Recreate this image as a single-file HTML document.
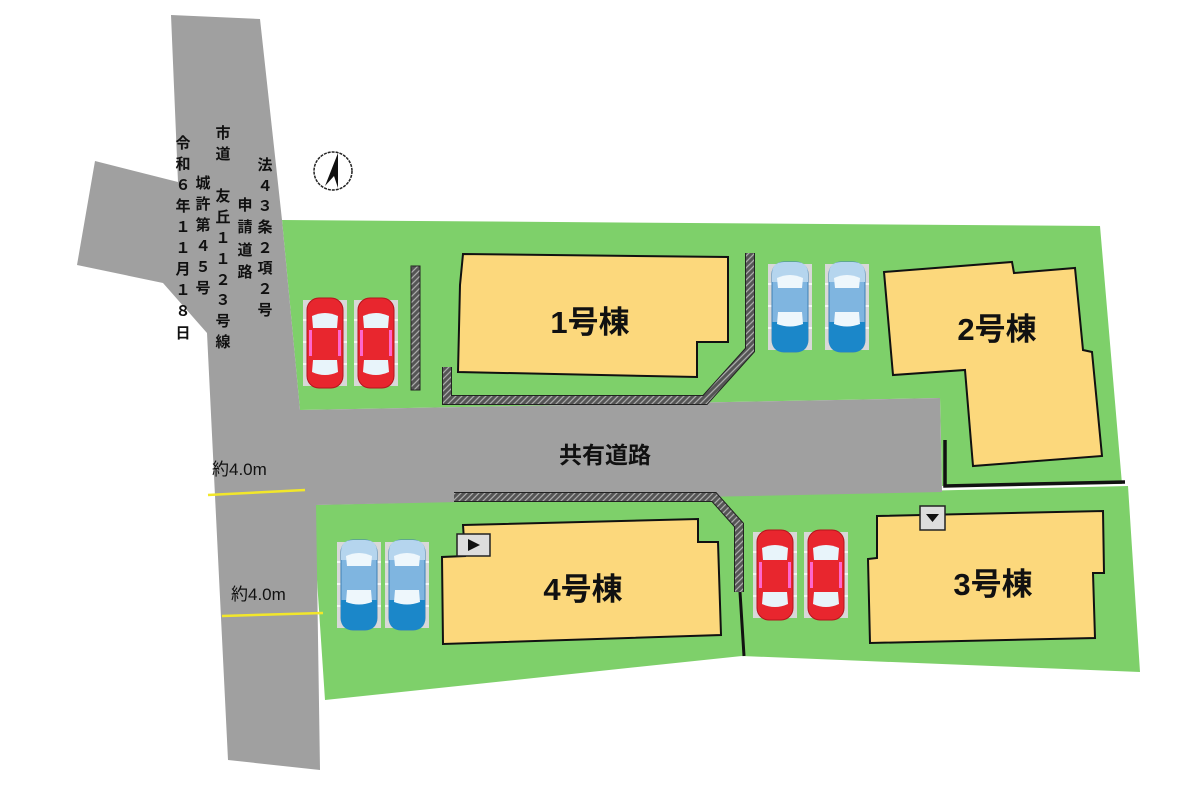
<!DOCTYPE html>
<html><head><meta charset="utf-8"><style>
html,body{margin:0;padding:0;background:#fff}
svg{display:block}
text{font-family:"Liberation Sans","Noto Sans CJK JP",sans-serif;fill:#111}
</style></head><body>
<svg width="1196" height="800" viewBox="0 0 1196 800" xmlns="http://www.w3.org/2000/svg">
<defs>
<pattern id="hatch" width="6" height="6" patternUnits="userSpaceOnUse">
<rect width="6" height="6" fill="#555"/>
<path d="M0 6L6 0M-1 1L1 -1M5 7L7 5" stroke="#aaa" stroke-width="1.3"/>
</pattern>
<g id="stripes">
<rect x="0" y="2" width="44" height="86" fill="#d8d8d8"/>
<path d="M0 22H44M0 44H44M0 66H44" stroke="#f4f4f4" stroke-width="2"/>
</g>
<g id="redcar">
<use href="#stripes"/>
<rect x="4" y="0" width="36" height="90" rx="12" fill="#e8262e" stroke="#b3151c" stroke-width="1"/>
<path d="M9 18Q22 12 35 18L34 30H10Z" fill="#e8f4fa"/>
<path d="M10 62H34L35 74Q22 80 9 74Z" fill="#e8f4fa"/>
<rect x="6" y="32" width="3" height="26" fill="#f6c"/>
<rect x="35" y="32" width="3" height="26" fill="#f6c"/>
</g>
<g id="bluecar">
<use href="#stripes"/>
<rect x="4" y="0" width="36" height="90" rx="12" fill="#7fb5e0" stroke="#3e7fb3" stroke-width="1"/>
<path d="M4 60H40V78Q40 90 28 90H16Q4 90 4 78Z" fill="#1b87c9"/>
<path d="M4 12Q4 0 16 0H28Q40 0 40 12V20H4Z" fill="#b5d5ee"/>
<path d="M9 16Q22 10 35 16L34 26H10Z" fill="#eef7fc"/>
<path d="M10 50H34L35 62Q22 67 9 62Z" fill="#eef7fc"/>
</g>
</defs>

<polygon points="282,220 1100,226 1122,484 942,486 940,398 300,410" fill="#7ed06a"/>
<polygon points="312,505 1128,486 1140,672 742,656 325,700" fill="#7ed06a"/>

<polygon points="171,15 260,19 282,220 300,410 940,398 942,492 316,505 320,770 228,760 207,333 163,283 77,265 95,161 178,182" fill="#a0a0a0"/>

<rect x="411" y="266" width="9" height="124" fill="url(#hatch)" stroke="#222" stroke-width="1"/>
<path d="M447 367V400H705L750 350V253" fill="none" stroke="#222" stroke-width="10"/>
<path d="M447 367V400H705L750 350V253" fill="none" stroke="url(#hatch)" stroke-width="8"/>
<path d="M454 497H714L739 525V592" fill="none" stroke="#222" stroke-width="10"/>
<path d="M454 497H714L739 525V592" fill="none" stroke="url(#hatch)" stroke-width="8"/>
<path d="M740 592L744 656" stroke="#111" stroke-width="3"/>
<path d="M945 440V486L1125 482" fill="none" stroke="#111" stroke-width="3.5"/>

<polygon points="463,254 728,257 728,342 697,342 697,377 458,372 460,285" fill="#fcd87c" stroke="#111" stroke-width="2"/>
<polygon points="884,272 1012,262 1014,273 1075,268 1083,350 1092,352 1102,456 973,466 965,370 893,375" fill="#fcd87c" stroke="#111" stroke-width="2"/>
<polygon points="463,525 698,519 698,542 718,542 721,635 443,644 442,557 465,556" fill="#fcd87c" stroke="#111" stroke-width="2"/>
<polygon points="877,516 1103,511 1104,573 1093,573 1095,638 870,643 868,559 877,558" fill="#fcd87c" stroke="#111" stroke-width="2"/>

<rect x="457" y="534" width="33" height="22" fill="#ddd" stroke="#222" stroke-width="1.5"/>
<polygon points="468,539 468,551 480,545" fill="#111"/>
<rect x="920" y="506" width="25" height="24" fill="#ddd" stroke="#222" stroke-width="1.5"/>
<polygon points="926,514 939,514 932.5,522" fill="#111"/>

<use href="#redcar" x="303" y="298"/>
<use href="#redcar" x="354" y="298"/>
<use href="#bluecar" x="768" y="262"/>
<use href="#bluecar" x="825" y="262"/>
<use href="#bluecar" x="337" y="540"/>
<use href="#bluecar" x="385" y="540"/>
<use href="#redcar" x="753" y="530"/>
<use href="#redcar" x="804" y="530"/>

<circle cx="333" cy="171" r="19" fill="#fff" stroke="#222" stroke-width="1.5" stroke-dasharray="3 1"/>
<polygon points="338,153 325,186 334,176 338,188" fill="#111"/>

<g font-weight="bold">
<text x="590" y="333" font-size="31" text-anchor="middle">1号棟</text>
<text x="997" y="340" font-size="31" text-anchor="middle">2号棟</text>
<text x="583" y="600" font-size="31" text-anchor="middle">4号棟</text>
<text x="993" y="595" font-size="31" text-anchor="middle">3号棟</text>
<text x="605" y="463" font-size="23" text-anchor="middle">共有道路</text>
</g>
<text x="212" y="475" font-size="17">約4.0m</text>
<text x="231" y="600" font-size="17">約4.0m</text>
<path d="M208 495L305 490" stroke="#f2e72a" stroke-width="2.5"/>
<path d="M222 616L323 613" stroke="#f2e72a" stroke-width="2.5"/>

<g font-size="15" font-weight="bold" text-anchor="middle" dominant-baseline="central">
<text><tspan x="183" y="143">令</tspan><tspan x="183" y="164">和</tspan><tspan x="183" y="185">６</tspan><tspan x="183" y="206">年</tspan><tspan x="183" y="227">１</tspan><tspan x="183" y="248">１</tspan><tspan x="183" y="269">月</tspan><tspan x="183" y="290">１</tspan><tspan x="183" y="311">８</tspan><tspan x="183" y="333">日</tspan></text>
<text><tspan x="203" y="183">城</tspan><tspan x="203" y="204">許</tspan><tspan x="203" y="225">第</tspan><tspan x="203" y="246">４</tspan><tspan x="203" y="267">５</tspan><tspan x="203" y="288">号</tspan></text>
<text><tspan x="223" y="133">市</tspan><tspan x="223" y="154">道</tspan><tspan x="223" y="196">友</tspan><tspan x="223" y="217">丘</tspan><tspan x="223" y="238">１</tspan><tspan x="223" y="259">１</tspan><tspan x="223" y="280">２</tspan><tspan x="223" y="300">３</tspan><tspan x="223" y="321">号</tspan><tspan x="223" y="342">線</tspan></text>
<text><tspan x="245" y="205">申</tspan><tspan x="245" y="227">請</tspan><tspan x="245" y="250">道</tspan><tspan x="245" y="272">路</tspan></text>
<text><tspan x="265" y="165">法</tspan><tspan x="265" y="186">４</tspan><tspan x="265" y="206">３</tspan><tspan x="265" y="227">条</tspan><tspan x="265" y="248">２</tspan><tspan x="265" y="268">項</tspan><tspan x="265" y="289">２</tspan><tspan x="265" y="310">号</tspan></text>
</g>
</svg>
</body></html>
